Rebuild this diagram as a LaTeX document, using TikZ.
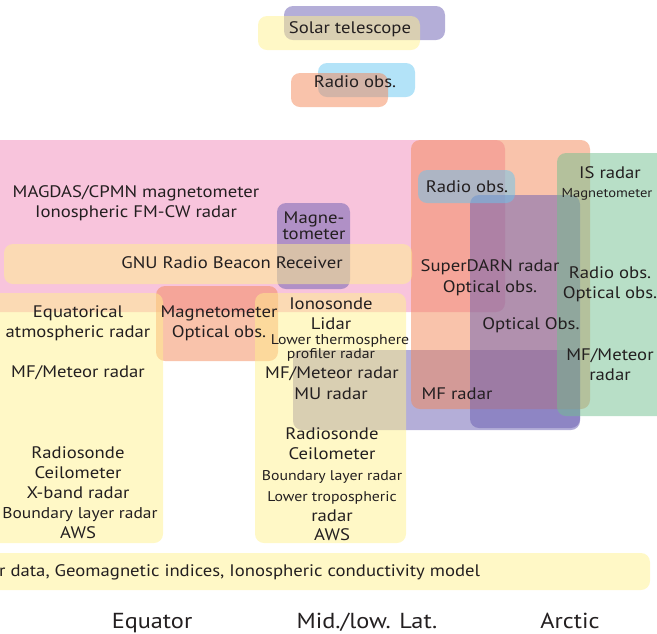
\documentclass[tikz,border=0pt]{standalone}
\usepackage{fontspec}
\setmainfont{PT Sans}[FakeStretch=1.12]
\definecolor{pinkC}{RGB}{241,137,185}
\definecolor{salmonC}{RGB}{243,135,87}
\definecolor{yellowC}{RGB}{255,241,141}
\definecolor{purpleC}{RGB}{105,93,177}
\definecolor{blueC}{RGB}{103,199,241}
\definecolor{greenC}{RGB}{113,191,143}
\definecolor{textC}{RGB}{35,31,32}
\tikzset{
  box/.style={rounded corners=9pt, fill opacity=0.5, draw=none},
  pinkbox/.style={box, fill=pinkC},
  salmonbox/.style={box, fill=salmonC},
  yellowbox/.style={box, fill=yellowC},
  purplebox/.style={box, fill=purpleC},
  bluebox/.style={box, fill=blueC},
  greenbox/.style={box, fill=greenC},
  lbl/.style={text=textC, inner sep=0pt, anchor=base, font=\fontsize{16.7}{18}\selectfont},
  slbl/.style={lbl, font=\fontsize{14.1}{15}\selectfont},
  biglbl/.style={lbl, font=\fontsize{21.7}{24}\selectfont},
}
\begin{document}
\begin{tikzpicture}[x=1pt,y=-1pt]
\useasboundingbox (0,0) rectangle (657,633);
% boxes
\path[pinkbox] (-20,140) rectangle (505,312);
\path[purplebox] (293,350) rectangle (580,430);
\path[salmonbox] (411,140) rectangle (590,409);
\path[purplebox] (470,195) rectangle (580,428);
\path[bluebox] (418,170) rectangle (515,203);
\path[greenbox] (557,153) rectangle (680,416);
\path[purplebox] (284,6) rectangle (445,40);
\path[yellowbox] (258,16) rectangle (420,50);
\path[bluebox] (318,63) rectangle (415,97);
\path[salmonbox] (291,73) rectangle (388,107);
\path[purplebox] (277,203) rectangle (350,289);
\path[yellowbox] (4,244) rectangle (412,284);
\path[salmonbox] (156,286) rectangle (278,361);
\path[yellowbox] (-20,293) rectangle (163,543);
\path[yellowbox] (255,293) rectangle (406,543);
\path[yellowbox] (-20,553) rectangle (650,590);
% top
\node[lbl] (solar) at (350,33) {Solar telescope};
\node[lbl] (radtop) at (355,87) {Radio obs.};
% pink
\node[lbl] (magdas) at (136,197) {MAGDAS/CPMN magnetometer};
\node[lbl] (fmcw) at (136,217) {Ionospheric FM-CW radar};
\node[lbl] (magne1) at (314,223) {Magne-};
\node[lbl] (magne2) at (314,239) {tometer};
\node[lbl] (gnu) at (232,268) {GNU Radio Beacon Receiver};
% equator
\node[lbl] (eq1) at (78,317) {Equatorical};
\node[lbl] (eq2) at (78,337) {atmospheric radar};
\node[lbl] (eq3) at (78,377) {MF/Meteor radar};
\node[lbl] (eq4) at (78,458) {Radiosonde};
\node[lbl] (eq5) at (78,478) {Ceilometer};
\node[lbl] (eq6) at (78,498) {X-band radar};
\node[lbl, font=\fontsize{15.6}{18}\selectfont] (eq7) at (80,518) {Boundary layer radar};
\node[lbl] (eq8) at (78,538) {AWS};
\node[lbl] (mo1) at (219,317) {Magnetometer};
\node[lbl] (mo2) at (219,337) {Optical obs.};
% mid
\node[lbl] (mid1) at (331,309) {Ionosonde};
\node[lbl] (mid2) at (331,329) {Lidar};
\node[slbl] (mid3) at (340,344) {Lower thermosphere};
\node[slbl] (mid4) at (331,358) {profiler radar};
\node[lbl] (mid5) at (332,378) {MF/Meteor radar};
\node[lbl] (mid6) at (331,399) {MU radar};
\node[lbl] (mid7) at (332,439) {Radiosonde};
\node[lbl] (mid8) at (332,459) {Ceilometer};
\node[slbl] (mid9) at (332,480) {Boundary layer radar};
\node[slbl] (mid10) at (332,501) {Lower tropospheric};
\node[lbl] (mid11) at (332,521) {radar};
\node[lbl] (mid12) at (332,540) {AWS};
% arctic
\node[lbl] (ar1) at (467,192) {Radio obs.};
\node[lbl] (ar2) at (490,271) {SuperDARN radar};
\node[lbl] (ar3) at (490,292) {Optical obs.};
\node[lbl] (ar4) at (531,329) {Optical Obs.};
\node[lbl] (ar5) at (457,399) {MF radar};
\node[lbl] (is1) at (610,178) {IS radar};
\node[slbl, font=\fontsize{13}{15}\selectfont] (is2) at (607,197) {Magnetometer};
\node[lbl] (is3) at (610,278) {Radio obs.};
\node[lbl] (is4) at (610,298) {Optical obs.};
\node[lbl] (is5) at (610,360) {MF/Meteor};
\node[lbl] (is6) at (610,380) {radar};
% bottom
\node[lbl, anchor=base west] (bottombar) at (-1,576) {r data, Geomagnetic indices, Ionospheric conductivity model};
\node[biglbl] (equator) at (152,628) {Equator};
\node[biglbl] (midlat) at (367,628) {Mid./low. Lat.};
\node[biglbl] (arctic) at (570,628) {Arctic};
\end{tikzpicture}
\end{document}
